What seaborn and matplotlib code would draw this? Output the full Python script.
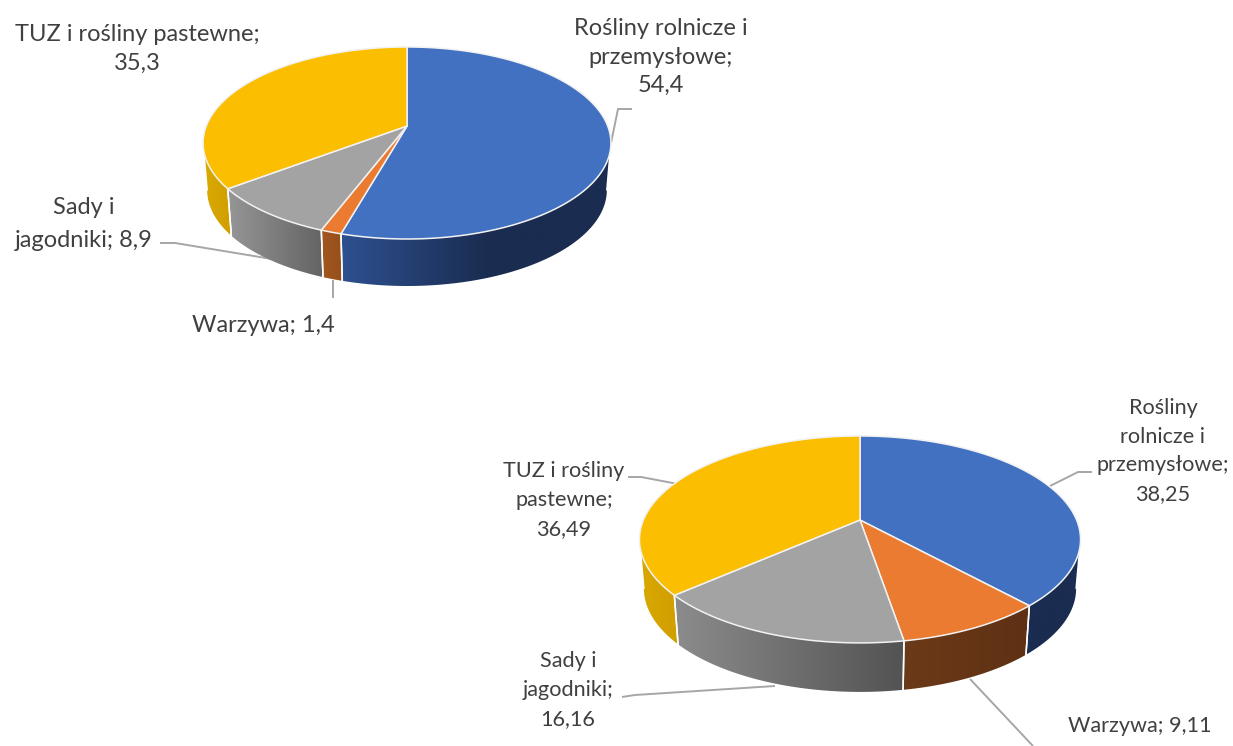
import numpy as np
import matplotlib
matplotlib.use("Agg")
import matplotlib.pyplot as plt
from matplotlib.colors import to_rgb
from matplotlib.patches import Polygon
import seaborn as sns

#Values, clockwise from 12 o'clock
categories = ["Rośliny rolnicze i przemysłowe", "Warzywa", "Sady i jagodniki", "TUZ i rośliny pastewne"]
values_top = [54.4, 1.4, 8.9, 35.3]
values_bottom = [38.25, 9.11, 16.16, 36.49]

labels_top = ["Rośliny rolnicze i\nprzemysłowe;\n54,4", "Warzywa; 1,4", "Sady i\njagodniki; 8,9", "TUZ i rośliny pastewne;\n35,3"]
labels_bottom = ["Rośliny\nrolnicze i\nprzemysłowe;\n38,25", "Warzywa; 9,11", "Sady i\njagodniki;\n16,16", "TUZ i rośliny\npastewne;\n36,49"]

sns.set_theme(style="white")
plt.rcParams['font.family'] = ['Lato', 'DejaVu Sans']

colors = sns.color_palette(["#4371C2", "#EA7B30", "#A3A3A3", "#FBBE00"])
line_col = "#A6A6A6"
text_col = "#404040"

def project(theta, geo):
	#theta clockwise from the top, perspective tilted disc, returns pixels
	u = np.sin(theta)
	v = np.cos(theta)
	w = 1 + geo["k"] * v
	return geo["cx"] + geo["a"] * u / w, geo["cy"] - geo["b"] * v / w

def draw_pie(ax, values, geo, wall_cols):
	vals = np.array(values, dtype=float)
	edges = np.concatenate([[0], np.cumsum(vals) / vals.sum()]) * 2 * np.pi
	vis_lo = np.arccos(-geo["k"])
	vis_hi = 2 * np.pi - vis_lo

	#Side walls first
	for i in range(len(vals)):
		lo = max(edges[i], vis_lo)
		hi = min(edges[i + 1], vis_hi)
		if hi <= lo:
			continue
		t = np.linspace(lo, hi, 120)
		x, y = project(t, geo)
		xb = geo["cx"] + (x - geo["cx"]) * 0.98
		yb = y + geo["depth"]
		pts = np.column_stack([np.r_[x, xb[::-1]], np.r_[y, yb[::-1]]])
		left, right, stop = wall_cols[i]
		x0, x1 = pts[:, 0].min(), pts[:, 0].max()
		y0, y1 = pts[:, 1].min(), pts[:, 1].max()
		frac = np.linspace(0, 1, 256)
		c0, c1 = np.array(to_rgb(left)), np.array(to_rgb(right))
		ramp = np.clip(frac / stop, 0, 1)[:, None]
		grad = (c0 + (c1 - c0) * ramp)[None, :, :]
		im = ax.imshow(grad, extent=(x0, x1, y1, y0), aspect="auto", zorder=2, interpolation="bilinear")
		patch = Polygon(pts, closed=True, facecolor="none", edgecolor="none", transform=ax.transData)
		ax.add_patch(patch)
		im.set_clip_path(patch)
		ax.plot(pts[:, 0][[0, -1]], pts[:, 1][[0, -1]], color="white", lw=1.1, zorder=3)
		ax.plot(pts[:, 0][[119, 120]], pts[:, 1][[119, 120]], color="white", lw=1.1, zorder=3)

	#Top faces
	for i in range(len(vals)):
		t = np.linspace(edges[i], edges[i + 1], 200)
		x, y = project(t, geo)
		ax.fill(np.r_[geo["cx"], x], np.r_[geo["cy"], y], facecolor=colors[i], edgecolor="#F2F2F2", lw=1.1, zorder=4, joinstyle="round")

fig = plt.figure(figsize=(12.33, 7.46), dpi=100)
ax = fig.add_axes([0, 0, 1, 1])

geo_top = {"cx": 407, "cy": 126, "a": 200.7, "b": 93.0, "k": 0.177, "depth": 47}
geo_bottom = {"cx": 860, "cy": 520, "a": 216.6, "b": 99.8, "k": 0.188, "depth": 49}

walls_top = [("#2E5090", "#1A2C50", 0.55), ("#A3561F", "#96501C", 1.0), ("#969696", "#636363", 1.0), ("#DBA900", "#D09F00", 1.0)]
walls_bottom = [("#1A2C50", "#1A2C50", 1.0), ("#6B3A18", "#5F3014", 1.0), ("#8C8C8C", "#535353", 1.0), ("#D9A800", "#D09F00", 1.0)]

draw_pie(ax, values_top, geo_top, walls_top)
draw_pie(ax, values_bottom, geo_bottom, walls_bottom)

#Leader lines
leaders = [
	([611, 618, 632], [143, 109, 109]),
	([160, 175, 272], [243, 243, 259]),
	([333, 333], [280, 298]),
	([628, 641, 678], [477, 477, 484]),
	([1050, 1078, 1092], [486, 472, 472]),
	([622, 635, 775], [697, 695, 686]),
	([970, 1033], [679, 746]),
]
for xs, ys in leaders:
	ax.plot(xs, ys, color=line_col, lw=1.4, zorder=1, solid_capstyle="butt")

size_top = 17.0
size_bottom = 15.6
pos_top = [(661, 57), (263, 326), (84, 224), (137, 49)]
space_top = [1.45, 1.45, 1.7, 1.5]
pos_bottom = [(1163, 451), (1140, 726), (568, 690), (564, 500)]
for lab, (tx, ty), sp in zip(labels_top, pos_top, space_top):
	ax.text(tx, ty, lab, ha="center", va="center", fontsize=size_top, color=text_col, linespacing=sp, zorder=5)
for lab, (tx, ty) in zip(labels_bottom, pos_bottom):
	ax.text(tx, ty, lab, ha="center", va="center", fontsize=size_bottom, color=text_col, linespacing=1.55, zorder=5)

ax.set_xlim(0, 1233)
ax.set_ylim(746, 0)
ax.axis("off")
fig.savefig("out.png", dpi=100, facecolor="white")
